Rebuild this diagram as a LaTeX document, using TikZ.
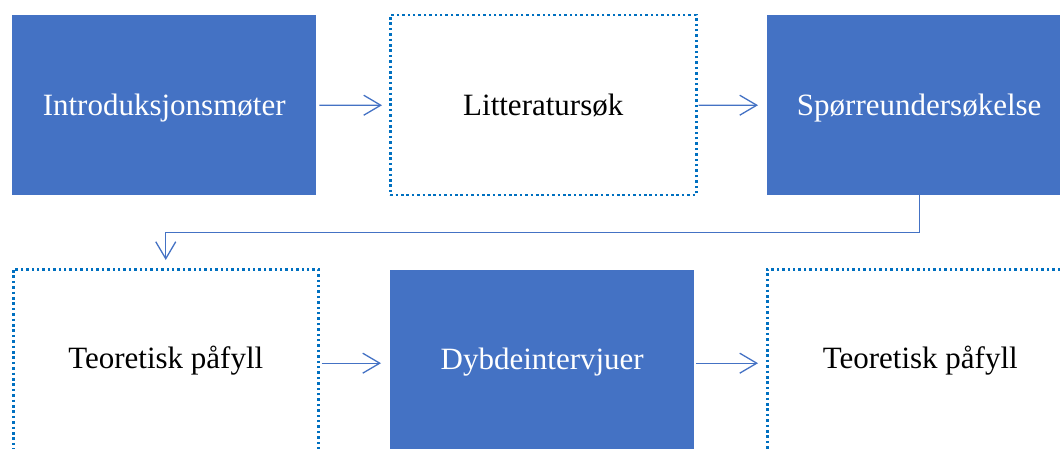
\documentclass[tikz,border=0pt]{standalone}
\usepackage{fontspec}
\setmainfont{Liberation Serif}
\usetikzlibrary{arrows.meta}
\definecolor{stepblue}{RGB}{68,114,196}
\definecolor{dotblue}{RGB}{0,112,192}
\tikzset{
  box/.style={rectangle, inner sep=0pt, minimum width=304pt,
    font=\fontsize{31}{36}\selectfont, anchor=north west},
  toprow/.style={text height=100pt, text depth=80pt},
  bottomrow/.style={text height=99pt, text depth=111pt},
  filledbox/.style={box, fill=stepblue, text=white},
  dottedbox/.style={box, draw=dotblue, line width=2.5pt,
    dash pattern=on 2.5pt off 2.9pt, text=black},
  flow/.style={draw=stepblue, line width=1.3pt,
    -{Straight Barb[length=17pt, width=20pt, line width=1.3pt]}}
}
\begin{document}
\begin{tikzpicture}[x=1pt, y=-1pt]
  \useasboundingbox (0,0) rectangle (1060,449);
  \clip (0,0) rectangle (1060,449);
  % top row
  \node[filledbox, toprow] (b1) at (12,15) {Introduksjonsmøter};
  \node[dottedbox, toprow, minimum width=306pt] (b2) at (389,14) {Litteratursøk};
  \node[filledbox, toprow] (b3) at (767,15) {Spørreundersøkelse};
  % bottom row
  \node[dottedbox, bottomrow, minimum width=305pt] (b4) at (12,268) {Teoretisk påfyll};
  \node[filledbox, bottomrow] (b5) at (390,270) {Dybdeintervjuer};
  \node[dottedbox, bottomrow, minimum width=306pt] (b6) at (766,268) {Teoretisk påfyll};
  % connectors
  \draw[flow, shorten <=3pt, shorten >=7pt] (b1.east) -- (b2.west);
  \draw[flow, shorten <=1pt, shorten >=9pt] (b2.east) -- (b3.west);
  \draw[flow, shorten >=8pt] (b3.south) -- ++(0,37) -| (b4.north);
  \draw[flow, shorten <=2pt, shorten >=9pt] (b4.east |- b5.center) ++(0,-12) coordinate (s4)
    (s4) -- (s4 -| b5.west);
  \draw[flow, shorten <=2pt, shorten >=8pt] (b5.east |- s4) -- (s4 -| b6.west);
\end{tikzpicture}
\end{document}
